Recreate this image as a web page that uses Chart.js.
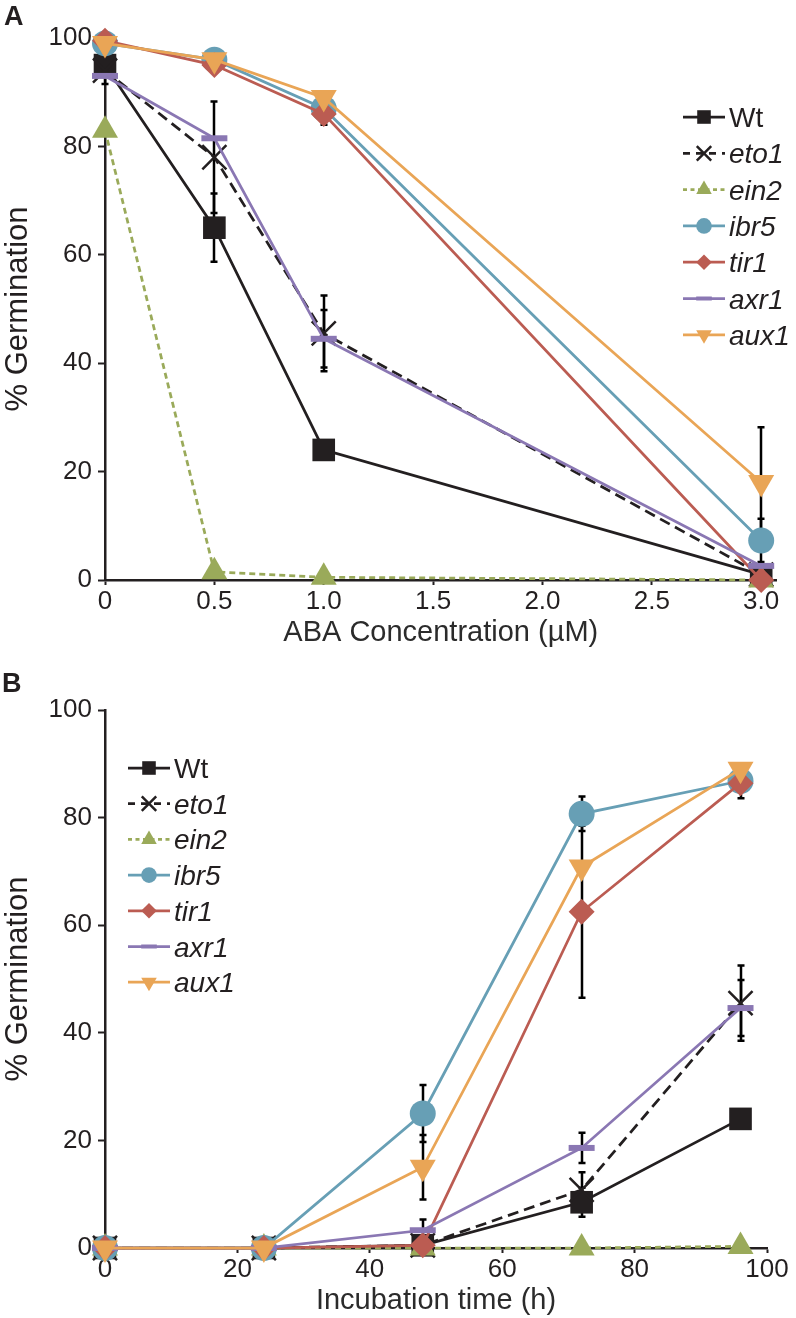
<!DOCTYPE html>
<html>
<head>
<meta charset="utf-8">
<script src="https://cdn.jsdelivr.net/npm/chart.js@4.4.1/dist/chart.umd.min.js"></script>
<style>
html,body{margin:0;padding:0;background:#fff;}
#wrap{position:relative;width:796px;height:1318px;overflow:hidden;background:#fff;}
.panel{position:absolute;left:0;width:796px;}
.lbl{position:absolute;font:bold 27px "Liberation Sans",Arial,sans-serif;color:#231f20;line-height:30px;}
</style>
</head>
<body>
<div id="wrap">
  <div class="panel" style="top:0;height:650px"><canvas id="cA" width="796" height="650"></canvas></div>
  <div class="panel" style="top:650px;height:668px"><canvas id="cB" width="796" height="668"></canvas></div>
  <div class="lbl" style="left:4px;top:1px">A</div>
  <div class="lbl" style="left:2px;top:668px">B</div>
</div>
<script>
// ---------------- DATA ----------------
const seriesNames = ['Wt', 'eto1', 'ein2', 'ibr5', 'tir1', 'axr1', 'aux1'];

// Panel A: germination vs ABA concentration (µM)
const abaConc = [0, 0.5, 1.0, 3.0];
const abaTicks = [0, 0.5, 1.0, 1.5, 2.0, 2.5, 3.0];
const abaTickLabels = ['0', '0.5', '1.0', '1.5', '2.0', '2.5', '3.0'];
const wtA   = [95, 65, 24, 1];
const eto1A = [94, 78, 45.5, 1];
const ein2A = [83, 1.5, 0.5, 0];
const ibr5A = [99, 96, 87, 7.3];
const tir1A = [99.5, 95, 86, 0];
const axr1A = [93, 81.5, 44.5, 2.6];
const aux1A = [99, 96, 89, 18];
const wtErrA   = [3.5, 6.3, null, null];
const eto1ErrA = [null, 10.3, 7, null];
const ein2ErrA = [null, null, null, null];
const ibr5ErrA = [null, null, null, 4];
const tir1ErrA = [null, null, 2, null];
const axr1ErrA = [null, null, 5.3, null];
const aux1ErrA = [null, null, null, 10.2];

// Panel B: germination vs incubation time (h)
const hours = [0, 24, 48, 72, 96];
const hourTicks = [0, 20, 40, 60, 80, 100];
const hourTickLabels = ['0', '20', '40', '60', '80', '100'];
const wtB   = [0, 0, 0.5, 8.5, 24];
const eto1B = [0, 0, 0.5, 10.8, 45.5];
const ein2B = [0, 0, 0, 0, 0.3];
const ibr5B = [0, 0, 25, 80.7, 86.8];
const tir1B = [0, 0, 0.5, 62.5, 86.4];
const axr1B = [0, 0, 3.3, 18.6, 44.6];
const aux1B = [0, 0, 15, 70.8, 89];
const wtErrB   = [null, null, null, 2.7, null];
const eto1ErrB = [null, null, null, 3.3, 7];
const ein2ErrB = [null, null, null, null, null];
const ibr5ErrB = [null, null, 5.3, 3.2, 3.2];
const tir1ErrB = [null, null, null, 16, null];
const axr1ErrB = [null, null, 2, 2.8, 5.2];
const aux1ErrB = [null, null, 6, null, null];

const germTicks = [0, 20, 40, 60, 80, 100];
const germTickLabels = ['0', '20', '40', '60', '80', '100'];

// ---------------- STYLES ----------------
const INK = '#231f20';
const FONT = '"Liberation Sans", Arial, sans-serif';
const styles = [
  {color: INK,       style: 'rect',     radius: 16, bw: 0,   dash: [],      rot: 0,   italic: false},
  {color: INK,       style: 'crossRot', radius: 17, bw: 2.5, dash: [11, 6], rot: 0,   italic: true},
  {color: '#9aaa5a', style: 'triangle', radius: 15, bw: 0,   dash: [6, 4],  rot: 0,   italic: true},
  {color: '#679fb5', style: 'circle',   radius: 13, bw: 0,   dash: [],      rot: 0,   italic: true},
  {color: '#bb5c52', style: 'rectRot',  radius: 13, bw: 0,   dash: [],      rot: 0,   italic: true},
  {color: '#8a77b3', style: 'line',     radius: 13, bw: 6,   dash: [],      rot: 0,   italic: true},
  {color: '#e9a556', style: 'triangle', radius: 15, bw: 0,   dash: [],      rot: 180, italic: true}
];

function buildDatasets(xs, valueLists, errLists) {
  return valueLists.map((vals, i) => {
    const s = styles[i];
    return {
      label: seriesNames[i],
      data: xs.map((x, j) => ({x: x, y: vals[j]})),
      errors: errLists[i],
      borderColor: s.color,
      backgroundColor: s.color,
      borderWidth: 2.75,
      borderDash: s.dash,
      pointStyle: s.style,
      pointRadius: s.radius,
      pointRotation: s.rot,
      pointBackgroundColor: s.color,
      pointBorderColor: s.color,
      pointBorderWidth: s.bw,
      pointHoverRadius: s.radius,
      tension: 0,
      fill: false,
      clip: false,
      order: 6 - i
    };
  });
}

// error bars (drawn under the series, as in the source figure)
const errorBarPlugin = {
  id: 'errorBars',
  beforeDatasetsDraw(chart) {
    const ctx = chart.ctx, xs = chart.scales.x, ys = chart.scales.y;
    ctx.save();
    ctx.strokeStyle = '#000';
    ctx.lineWidth = 2.5;
    ctx.setLineDash([]);
    chart.data.datasets.forEach(ds => {
      (ds.errors || []).forEach((e, j) => {
        if (e === null || e === undefined) return;
        const p = ds.data[j];
        const px = Math.round(xs.getPixelForValue(p.x));
        const yt = ys.getPixelForValue(p.y + e);
        const yb = ys.getPixelForValue(Math.max(p.y - e, 0));
        ctx.beginPath();
        ctx.moveTo(px, yt); ctx.lineTo(px, yb);
        ctx.moveTo(px - 3.5, yt); ctx.lineTo(px + 3.5, yt);
        ctx.moveTo(px - 3.5, yb); ctx.lineTo(px + 3.5, yb);
        ctx.stroke();
      });
    });
    ctx.restore();
  }
};

function drawMarker(ctx, s, x, y, r) {
  ctx.save();
  ctx.fillStyle = s.color;
  ctx.strokeStyle = s.color;
  ctx.setLineDash([]);
  ctx.beginPath();
  if (s.style === 'rect') {
    const h = r * Math.SQRT1_2;
    ctx.rect(x - h, y - h, 2 * h, 2 * h);
    ctx.fill();
  } else if (s.style === 'circle') {
    ctx.arc(x, y, r, 0, Math.PI * 2);
    ctx.fill();
  } else if (s.style === 'rectRot') {
    ctx.moveTo(x - r, y); ctx.lineTo(x, y - r); ctx.lineTo(x + r, y); ctx.lineTo(x, y + r); ctx.closePath();
    ctx.fill();
  } else if (s.style === 'triangle') {
    let a = s.rot * Math.PI / 180;
    for (let k = 0; k < 3; k++) {
      const px = x + Math.sin(a) * r, py = y - Math.cos(a) * r;
      if (k === 0) ctx.moveTo(px, py); else ctx.lineTo(px, py);
      a += 2 * Math.PI / 3;
    }
    ctx.closePath();
    ctx.fill();
  } else if (s.style === 'crossRot') {
    const h = r * Math.SQRT1_2;
    ctx.lineWidth = 2.5;
    ctx.moveTo(x - h, y - h); ctx.lineTo(x + h, y + h);
    ctx.moveTo(x - h, y + h); ctx.lineTo(x + h, y - h);
    ctx.stroke();
  } else if (s.style === 'line') {
    ctx.lineWidth = 4;
    ctx.moveTo(x - r, y); ctx.lineTo(x + r, y);
    ctx.stroke();
  }
  ctx.restore();
}

function legendPlugin(pos) {
  return {
    id: 'customLegend',
    afterDraw(chart) {
      const ctx = chart.ctx;
      chart.data.datasets.forEach((ds, i) => {
        const s = styles[i];
        const y = pos.y0 + i * pos.dy;
        ctx.save();
        ctx.strokeStyle = s.color;
        ctx.lineWidth = 2.75;
        ctx.setLineDash(i === 1 ? [7, 6] : (i === 2 ? [4, 3.5] : []));
        ctx.beginPath();
        ctx.moveTo(pos.x0, y); ctx.lineTo(pos.x0 + 42, y);
        ctx.stroke();
        ctx.restore();
        drawMarker(ctx, s, pos.x0 + 21, y, s.radius * 0.6);
        ctx.save();
        ctx.fillStyle = INK;
        ctx.font = (s.italic ? 'italic ' : '') + '28px ' + FONT;
        ctx.textBaseline = 'alphabetic';
        ctx.textAlign = 'left';
        ctx.fillText(ds.label, pos.x0 + 46, y + 10);
        ctx.restore();
      });
    }
  };
}

function makeChart(canvasId, xs, valueLists, errLists, cfg) {
  const tickFont = {family: FONT, size: 26};
  return new Chart(document.getElementById(canvasId), {
    type: 'line',
    data: {datasets: buildDatasets(xs, valueLists, errLists)},
    options: {
      responsive: false,
      animation: false,
      devicePixelRatio: 1,
      events: [],
      layout: {padding: {left: 0, top: cfg.top, right: cfg.right, bottom: 0}},
      plugins: {legend: {display: false}, tooltip: {enabled: false}, title: {display: false}},
      scales: {
        x: {
          type: 'linear',
          min: cfg.xmin, max: cfg.xmax,
          afterFit: s => { s.height = cfg.xh; },
          afterBuildTicks: s => { s.ticks = cfg.xticks.map(v => ({value: v})); },
          ticks: {
            callback: (v, i) => cfg.xlabels[i],
            font: tickFont, color: INK, padding: 1, autoSkip: false, maxRotation: 0, minRotation: 0
          },
          grid: {drawOnChartArea: false, drawTicks: true, tickLength: 5, tickWidth: 2, tickColor: INK},
          border: {display: true, color: INK, width: 2.5},
          title: {display: true, text: cfg.xtitle, font: {family: FONT, size: 29}, color: '#2b2b2b', padding: {top: 0, bottom: cfg.titlePad}}
        },
        y: {
          type: 'linear',
          min: 0, max: 100,
          afterFit: s => { s.width = 105; },
          afterBuildTicks: s => { s.ticks = germTicks.map(v => ({value: v})); },
          ticks: {
            callback: (v, i) => germTickLabels[i],
            font: tickFont, color: INK, padding: 6
          },
          grid: {drawOnChartArea: false, drawTicks: true, tickLength: 7, tickWidth: 2, tickColor: INK},
          border: {display: true, color: INK, width: 2.5},
          title: {display: true, text: '% Germination', font: {family: FONT, size: 31}, color: INK, padding: 0}
        }
      }
    },
    plugins: [errorBarPlugin, legendPlugin(cfg.legend)]
  });
}

makeChart('cA', abaConc,
  [wtA, eto1A, ein2A, ibr5A, tir1A, axr1A, aux1A],
  [wtErrA, eto1ErrA, ein2ErrA, ibr5ErrA, tir1ErrA, axr1ErrA, aux1ErrA],
  {top: 38, right: 14, xh: 70, xmin: 0, xmax: 3.07, xticks: abaTicks, xlabels: abaTickLabels,
   xtitle: 'ABA Concentration (µM)', titlePad: 0, legend: {x0: 683, y0: 117, dy: 36.3}});

makeChart('cB', hours,
  [wtB, eto1B, ein2B, ibr5B, tir1B, axr1B, aux1B],
  [wtErrB, eto1ErrB, ein2ErrB, ibr5ErrB, tir1ErrB, axr1ErrB, aux1ErrB],
  {top: 60, right: 29, xh: 70, xmin: 0, xmax: 100, xticks: hourTicks, xlabels: hourTickLabels,
   xtitle: 'Incubation time (h)', titlePad: 0, legend: {x0: 128, y0: 118, dy: 35.7}});
</script>
</body>
</html>
